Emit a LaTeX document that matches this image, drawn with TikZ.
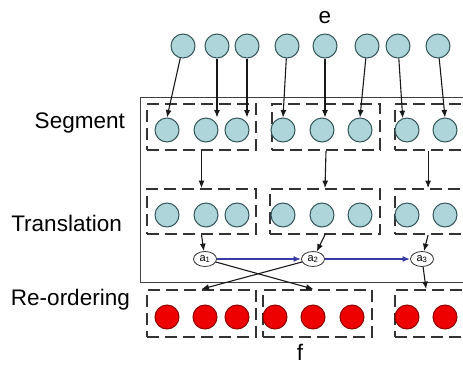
\documentclass[tikz,border=0pt]{standalone}
\usepackage{fontspec}
\setmainfont{Liberation Sans}
\usepackage{tikz}
\usetikzlibrary{shapes.geometric}
\usetikzlibrary{positioning}
\usetikzlibrary{arrows.meta}
\usetikzlibrary{calc}

\definecolor{wordfill}{HTML}{ADD5DA}
\definecolor{wordedge}{HTML}{34575B}
\definecolor{outfill}{HTML}{EE0000}
\definecolor{outedge}{HTML}{8E0000}
\definecolor{orderblue}{HTML}{3A3AA6}

\begin{document}
\begin{tikzpicture}[x=1pt,y=1pt]
			\tikzset{
				label/.style={font=\fontsize{22.5}{26}\selectfont, inner sep=0pt},
				srcword/.style={circle, draw=wordedge, fill=wordfill, line width=1pt, minimum size=24pt, inner sep=0pt},
				tgtword/.style={circle, draw=outedge, fill=outfill, line width=1pt, minimum size=24pt, inner sep=0pt},
				chunk/.style={rectangle, draw=black!80, line width=1.8pt, dash pattern=on 12pt off 6pt, inner sep=0pt},
				alignnode/.style={ellipse, draw=black!80, fill=white, line width=0.8pt, minimum width=23pt, minimum height=15pt, inner sep=0pt, font=\fontsize{11}{13}\selectfont},
				link/.style={-{Latex[length=7.5pt,width=6pt]}, line width=1.1pt, black!90},
				order/.style={-{Latex[length=7.5pt,width=6pt]}, line width=1.7pt, orderblue},
			}
			\clip (0,0) rectangle (463,-365);

			% source words
			\node[label] (e) at (325,-18) {e};
			\node[srcword] (t1) at (183,-46) {};
			\node[srcword] (t2) at (217,-46) {};
			\node[srcword] (t3) at (247,-46) {};
			\node[srcword] (t4) at (287,-46) {};
			\node[srcword] (t5) at (325,-46) {};
			\node[srcword] (t6) at (367,-46) {};
			\node[srcword] (t7) at (398,-46) {};
			\node[srcword] (t8) at (438,-46) {};

			% model frame
			\draw[black!75, line width=1pt] (140,-97) rectangle (500,-282);

			% segments
			\node[label, anchor=east] (lseg) at (125,-123) {Segment};
			\node[chunk, minimum width=109pt, minimum height=46pt] (seg1) at (201.5,-127) {};
			\node[chunk, minimum width=108pt, minimum height=46pt] (seg2) at (326,-127) {};
			\node[chunk, minimum width=109pt, minimum height=46pt] (seg3) at (449.5,-127) {};
			\node[srcword] (s1) at (167,-130) {};
			\node[srcword] (s2) at (206,-130) {};
			\node[srcword] (s3) at (237,-130) {};
			\node[srcword] (s4) at (283,-130) {};
			\node[srcword] (s5) at (322,-130) {};
			\node[srcword] (s6) at (360,-130) {};
			\node[srcword] (s7) at (407,-130) {};
			\node[srcword] (s8) at (445,-130) {};

			\draw[link] (t1) -- (s1.north);
			\draw[link] (t2) -- (t2 |- s2.north);
			\draw[link] (t3) -- (t3 |- s3.north);
			\draw[link] (t4) -- (s4.north);
			\draw[link] (t5) -- (t5 |- s5.north);
			\draw[link] (t6) -- (s6.north);
			\draw[link] (t7) -- (s7.110);
			\draw[link] (t8) -- (s8.north);

			% translations
			\node[label, anchor=east] (ltr) at (122,-223) {Translation};
			\node[chunk, minimum width=109pt, minimum height=45pt] (tr1) at (201.5,-211.5) {};
			\node[chunk, minimum width=110pt, minimum height=45pt] (tr2) at (325,-211.5) {};
			\node[chunk, minimum width=109pt, minimum height=45pt] (tr3) at (449.5,-211.5) {};
			\node[srcword] (u1) at (167,-215) {};
			\node[srcword] (u2) at (206,-215) {};
			\node[srcword] (u3) at (237,-215) {};
			\node[srcword] (u4) at (283,-215) {};
			\node[srcword] (u5) at (322,-215) {};
			\node[srcword] (u6) at (360,-215) {};
			\node[srcword] (u7) at (407,-215) {};
			\node[srcword] (u8) at (445,-215) {};

			\draw[link] (seg1.south) -- (tr1.north);
			\draw[link] (seg2.south) -- (tr2.north);
			\draw[link] ([xshift=34pt]seg3.south west) -- ([xshift=34pt]tr3.north west);

			% alignment variables
			\node[alignnode] (a1) at (205,-259) {a\textsubscript{1}};
			\node[alignnode] (a2) at (313,-259) {a\textsubscript{2}};
			\node[alignnode] (a3) at (422,-259) {a\textsubscript{3}};

			\draw[link] (tr1.south) -- (a1);
			\draw[link] (tr2.south) -- (a2);
			\draw[link] ([xshift=34pt]tr3.south west) -- (a3);
			\draw[order] (a1) -- (a2);
			\draw[order] (a2) -- (a3);

			% re-ordered output
			\node[label, anchor=east] (lro) at (130,-300) {Re-ordering};
			\node[chunk, minimum width=109pt, minimum height=47pt] (ro1) at (201.5,-313.5) {};
			\node[chunk, minimum width=109pt, minimum height=47pt] (ro2) at (317.5,-313.5) {};
			\node[chunk, minimum width=109pt, minimum height=47pt] (ro3) at (449.5,-313.5) {};
			\node[tgtword] (r1) at (167,-317) {};
			\node[tgtword] (r2) at (205,-317) {};
			\node[tgtword] (r3) at (237,-317) {};
			\node[tgtword] (r4) at (275,-317) {};
			\node[tgtword] (r5) at (313,-317) {};
			\node[tgtword] (r6) at (352,-317) {};
			\node[tgtword] (r7) at (407,-317) {};
			\node[tgtword] (r8) at (445,-317) {};
			\node[label] (f) at (300,-352) {f};

			\draw[link] (a1) -- ([xshift=-4pt]ro2.north);
			\draw[link] (a2) -- (ro1.north);
			\draw[link] (a3) -- ([xshift=32pt]ro3.north west);
		\end{tikzpicture}
\end{document}
